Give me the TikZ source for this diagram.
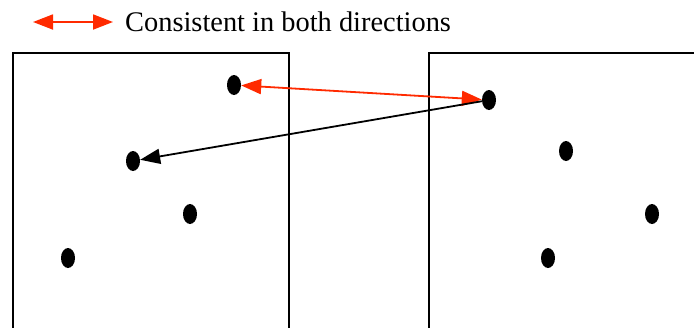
\documentclass[tikz,border=0pt]{standalone}
\usepackage{fontspec}
\setmainfont{Liberation Serif}
\usetikzlibrary{arrows.meta,shapes.geometric}
\definecolor{matchred}{HTML}{FF2A00}
\tikzset{>={Triangle[length=20pt,width=15pt]},
  frame/.style={draw=black,line width=1.8pt},
  feature/.style={ellipse,fill=black,inner sep=0pt,minimum width=14pt,minimum height=20pt},
  both/.style={<->,draw=matchred,line width=1.8pt},
  oneway/.style={->,draw=black,line width=1.8pt}}
\begin{document}
\begin{tikzpicture}[x=1pt,y=-1pt,every node/.style={font=\fontsize{28.4}{34}\selectfont}]
\useasboundingbox (0,0) rectangle (694,327);
% legend
\coordinate (legA) at (33,22);\coordinate (legB) at (113,22);
\draw[both] (legA)--(legB);
\node[anchor=west,inner sep=0pt] (legtext) at (125,22) {Consistent in both directions};
% two images
\draw[frame] (13,330)--(13,53)--(289,53)--(289,330);
\draw[frame] (429,330)--(429,53)--(700,53);
% features, left image
\node[feature] (l1) at (234,85) {};
\node[feature] (l2) at (133,161) {};
\node[feature] (l3) at (190,214) {};
\node[feature] (l4) at (68,258) {};
% features, right image
\node[feature] (r1) at (489,100) {};
\node[feature] (r2) at (566,151) {};
\node[feature] (r3) at (652,214) {};
\node[feature] (r4) at (548,258) {};
% matches
\draw[both] (l1)--(r1);
\draw[oneway] (r1)--(l2);
\end{tikzpicture}
\end{document}
